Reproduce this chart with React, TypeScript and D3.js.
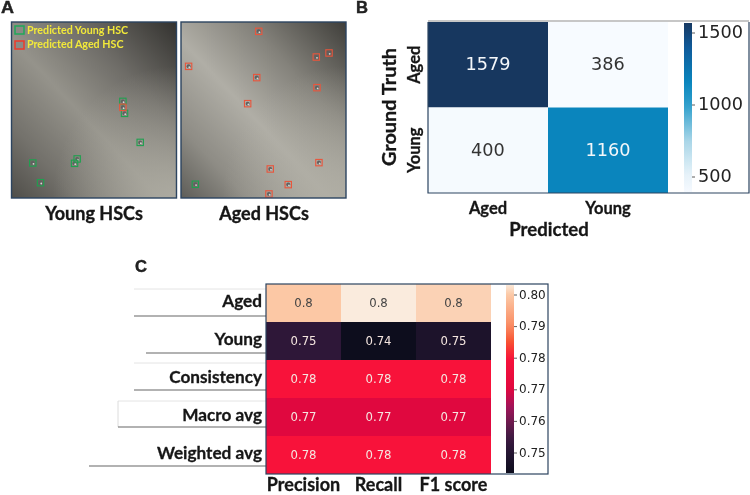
import React from "react";
import * as d3 from "d3";

const imgYoungGreen = [[67.5,45.1],[68.5,51.9],[78,68.4],[39.8,77.8],[38.2,80.3],[12.9,80.1],[17.6,91.3]];
const imgYoungRed = [[67.5,48.5]];
const imgAgedRed = [[47.1,5.3],[89.7,17.6],[82,19.9],[4.6,25.2],[45.9,31.6],[82.4,37.3],[40.4,46.4],[83.6,79.9],[54.1,83.5],[65,92.4],[53.3,97.7]];
const imgAgedGreen = [[8.7,92.2]];

const cmLabels = ["Aged", "Young"];
const cmValues = [[1579, 386], [400, 1160]];
const cmTicks = [500, 1000, 1500];
const blueDomain = [386, 520, 750, 1000, 1160, 1400, 1579];
const blueRange = ["#f7fbff", "#e6f2f9", "#a9d6e8", "#2f9fcc", "#0a85bd", "#0f5a9a", "#17375f"];

const metricRows = ["Aged", "Young", "Consistency", "Macro avg", "Weighted avg"];
const metricCols = ["Precision", "Recall", "F1 score"];
const metricValues = [[0.8, 0.8035, 0.801], [0.752, 0.7435, 0.748], [0.78, 0.78, 0.78], [0.77, 0.77, 0.77], [0.78, 0.78, 0.78]];
const metricTicks = [0.75, 0.76, 0.77, 0.78, 0.79, 0.8];
const rocketDomain = [0.7433, 0.75, 0.755, 0.76, 0.765, 0.77, 0.78, 0.785, 0.79, 0.8, 0.8035];
const rocketRange = ["#0c0d1c", "#241532", "#3e1a42", "#701a4f", "#a4125a", "#e0083f", "#f8123a", "#f85030", "#fa8a60", "#fcc8a5", "#faebdd"];
const rowRuleStarts = [134, 146, 134, 118, 89];
const rowRuleYs = [316, 353, 390, 427, 466];
const faintRuleStarts = [134, 134, 118];
const faintRuleYs = [289, 363, 401];

const LABEL = "Lato, 'Open Sans', sans-serif";
const NUM = "'DejaVu Sans', sans-serif";
const INK = "#161616";
const FRAME = "#2c4460";

const blue = d3.scaleLinear<string>().domain(blueDomain).range(blueRange);
const rocket = d3.scaleLinear<string>().domain(rocketDomain).range(rocketRange);

function Photo({ id, x, y, w, h, stops, green, red }: any) {
  const sx = d3.scaleLinear().domain([0, 100]).range([x, x + w]);
  const sy = d3.scaleLinear().domain([0, 100]).range([y, y + h]);
  const box = (p: number[], c: string, i: number) => (
    <rect key={c + i} x={sx(p[0]) - 3.2} y={sy(p[1]) - 3.2} width={6.4} height={6.4} fill="none" stroke={c} strokeWidth={1.1} />
  );
  const cell = (p: number[], i: number) => (
    <g key={i}>
      <circle cx={sx(p[0])} cy={sy(p[1])} r={2} fill="#606060" />
      <circle cx={sx(p[0]) + 0.7} cy={sy(p[1]) + 0.8} r={0.9} fill="#d8d8d4" />
    </g>
  );
  return (
    <g>
      <defs>
        <linearGradient id={id} x1="1" y1="0" x2="0" y2="1">
          {stops.map((s: any, i: number) => <stop key={i} offset={s[0]} stopColor={s[1]} />)}
        </linearGradient>
        <radialGradient id={id + "br"} cx="1" cy="1" r="0.75">
          <stop offset="0" stopColor="#b0aea4" stopOpacity={0.9} />
          <stop offset="1" stopColor="#b0aea4" stopOpacity={0} />
        </radialGradient>
      </defs>
      <rect x={x} y={y} width={w} height={h} fill={`url(#${id})`} />
      <rect x={x} y={y} width={w} height={h} fill={`url(#${id}br)`} />
      {green.concat(red).map(cell)}
      {green.map((p: number[], i: number) => box(p, "#1fa04f", i))}
      {red.map((p: number[], i: number) => box(p, "#e9553c", i))}
      <rect x={x} y={y} width={w} height={h} fill="none" stroke={FRAME} strokeWidth={1.4} />
    </g>
  );
}

function Colorbar({ id, x, w, y0, y1, scale, colour }: any) {
  const top = scale.invert(y0), bottom = scale.invert(y1);
  return (
    <g>
      <defs>
        <linearGradient id={id} x1="0" y1="1" x2="0" y2="0">
          {d3.range(0, 1.001, 0.05).map((t) => (
            <stop key={t} offset={t} stopColor={colour(bottom + (top - bottom) * t)} />
          ))}
        </linearGradient>
      </defs>
      <rect x={x} y={y0} width={w} height={y1 - y0} fill={`url(#${id})`} />
    </g>
  );
}

export default function App() {
  const bx = d3.scaleBand().domain(cmLabels).range([428, 668]);
  const by = d3.scaleBand().domain(cmLabels).range([22, 193]);
  const bBar = d3.scaleLinear().domain([500, 1500]).range([177, 33]);
  const cx = d3.scaleBand().domain(metricCols).range([266, 491]);
  const cy = d3.scaleBand().domain(metricRows).range([284, 474]);
  const cBar = d3.scaleLinear().domain([0.75, 0.8]).range([453, 295]);
  const fmt = (v: number) => String(Number(v.toFixed(2)));

  return (
    <svg width={750} height={495} style={{ position: "absolute", left: 0, top: 0, filter: "blur(0.35px)" }}>
      <rect width={750} height={495} fill="#fff" />
      <g fontFamily="'Liberation Sans', sans-serif" fontWeight={700} fontSize={16} fill="#222" stroke="#222" strokeWidth={0.4}>
        <text x={1} y={12.5} textLength={13} lengthAdjust="spacingAndGlyphs">A</text>
        <text x={356} y={12.5} textLength={12} lengthAdjust="spacingAndGlyphs">B</text>
        <text x={135} y={272} textLength={12} lengthAdjust="spacingAndGlyphs">C</text>
      </g>

      {/* Panel A */}
      <Photo id="pa" x={11.5} y={22} w={165} h={176} green={imgYoungGreen} red={imgYoungRed}
        stops={[[0, "#33322f"], [0.3, "#6e6c67"], [0.55, "#95938b"], [0.8, "#73716b"], [1, "#4f4e49"]]} />
      <Photo id="pb" x={181} y={22} w={165} h={176} green={imgAgedGreen} red={imgAgedRed}
        stops={[[0, "#3f3e3a"], [0.3, "#84827b"], [0.55, "#b0aea6"], [0.8, "#8e8c85"], [1, "#5e5d58"]]} />
      <g fontFamily={LABEL} fontWeight={700} fontSize={10.7} fill="#f2e93a">
        <text x={27} y={33.5}>Predicted Young HSC</text>
        <text x={27} y={47.5}>Predicted Aged HSC</text>
      </g>
      <rect x={15} y={26} width={9} height={8} fill="#8b8a85" stroke="#1fa85a" strokeWidth={1.5} />
      <rect x={15} y={41} width={9} height={8} fill="#8b8a85" stroke="#ee3a2a" strokeWidth={1.5} />
      <g fontFamily={LABEL} fontWeight={700} fontSize={18} fill={INK} stroke={INK} strokeWidth={0.35} textAnchor="middle">
        <text x={94} y={220}>Young HSCs</text>
        <text x={264} y={220}>Aged HSCs</text>
      </g>

      {/* Panel B */}
      <line x1={428} x2={749} y1={21} y2={21} stroke="#b5b5b5" strokeWidth={1.5} />
      {cmValues.map((row, r) => row.map((v, c) => (
        <g key={`${r}-${c}`}>
          <rect x={bx(cmLabels[c])} y={by(cmLabels[r])} width={bx.bandwidth()} height={by.bandwidth()} fill={blue(v)} />
          <text x={bx(cmLabels[c])! + bx.bandwidth() / 2} y={by(cmLabels[r])! + by.bandwidth() / 2 + 0.5}
            dominantBaseline="middle" textAnchor="middle" fontFamily={NUM} fontSize={17.7}
            fill={v > 1000 ? "#f4f7fa" : "#333"}>{v}</text>
        </g>
      )))}
      <Colorbar id="bb" x={684} w={8} y0={23} y1={192} scale={bBar} colour={blue} />
      {cmTicks.map((t) => (
        <g key={t}>
          <line x1={692} x2={695} y1={bBar(t)} y2={bBar(t)} stroke="#333" strokeWidth={0.8} />
          <text x={698} y={bBar(t)} dominantBaseline="middle" fontFamily={NUM} fontSize={17.7} fill="#222">{t}</text>
        </g>
      ))}
      <path d="M428,22V193H749V22" fill="none" stroke={FRAME} strokeWidth={1.2} />
      <g fontFamily={LABEL} fontWeight={700} fontSize={16.5} fill={INK} stroke={INK} strokeWidth={0.3} textAnchor="middle">
        {cmLabels.map((l) => (
          <text key={l} x={bx(l)! + bx.bandwidth() / 2} y={214}>{l}</text>
        ))}
        <text x={549} y={236} fontSize={18.6}>Predicted</text>
        {cmLabels.map((l) => (
          <text key={l} transform={`translate(420,${by(l)! + by.bandwidth() / 2}) rotate(-90)`}>{l}</text>
        ))}
        <text transform="translate(396,107) rotate(-90)" fontSize={19} textLength={118} lengthAdjust="spacingAndGlyphs">Ground Truth</text>
      </g>

      {/* Panel C */}
      {faintRuleYs.map((y, i) => (
        <line key={y} x1={faintRuleStarts[i]} x2={266} y1={y} y2={y} stroke="#e4e4e4" strokeWidth={1} />
      ))}
      <line x1={118} x2={118} y1={401} y2={427} stroke="#dcdcdc" strokeWidth={1} />
      {metricRows.map((r, i) => (
        <g key={r}>
          <line x1={rowRuleStarts[i]} x2={266} y1={rowRuleYs[i]} y2={rowRuleYs[i]} stroke="#666" strokeWidth={1.1} />
          <text x={262} y={cy(r)! + cy.bandwidth() / 2} dominantBaseline="middle" textAnchor="end"
            fontFamily={LABEL} fontWeight={700} fontSize={17.2} fill={INK} stroke={INK} strokeWidth={0.3}>{r}</text>
        </g>
      ))}
      {metricValues.map((row, r) => row.map((v, c) => (
        <g key={`${r}-${c}`}>
          <rect x={cx(metricCols[c])} y={cy(metricRows[r])} width={cx.bandwidth()} height={cy.bandwidth()} fill={rocket(v)} />
          <text x={cx(metricCols[c])! + cx.bandwidth() / 2} y={cy(metricRows[r])! + cy.bandwidth() / 2}
            dominantBaseline="middle" textAnchor="middle" fontFamily={NUM} fontSize={11.7}
            fill={v > 0.79 ? "#444" : "#f5e6e0"}>{fmt(v)}</text>
        </g>
      )))}
      <Colorbar id="cb" x={506} w={8} y0={285} y1={473} scale={cBar} colour={rocket} />
      {metricTicks.map((t) => (
        <g key={t}>
          <line x1={514} x2={517} y1={cBar(t)} y2={cBar(t)} stroke="#333" strokeWidth={0.8} />
          <text x={519} y={cBar(t)} dominantBaseline="middle" fontFamily={NUM} fontSize={12} fill="#222">{t.toFixed(2)}</text>
        </g>
      ))}
      <rect x={266} y={284} width={282} height={190} fill="none" stroke={FRAME} strokeWidth={1.2} />
      <g fontFamily={LABEL} fontWeight={700} fontSize={18} fill={INK} stroke={INK} strokeWidth={0.3} textAnchor="middle">
        {metricCols.map((l) => (
          <text key={l} x={cx(l)! + cx.bandwidth() / 2} y={490.5}>{l}</text>
        ))}
      </g>
    </svg>
  );
}
